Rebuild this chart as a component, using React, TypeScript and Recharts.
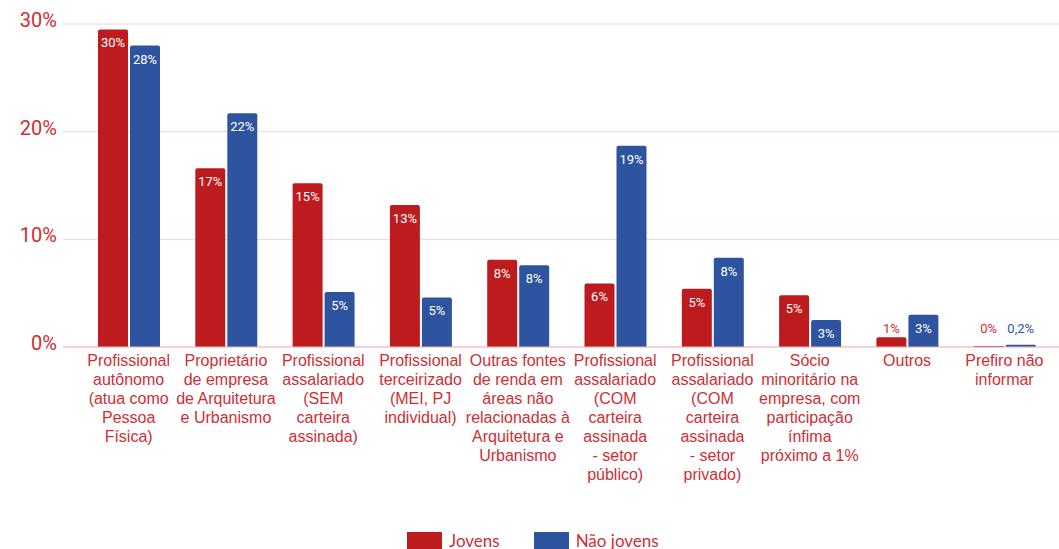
import { Bar, BarChart, CartesianGrid, LabelList, XAxis, YAxis } from 'recharts'

const categories = [
  'Profissional\nautônomo\n(atua como\nPessoa\nFísica)',
  'Proprietário\nde empresa\nde Arquitetura\ne Urbanismo',
  'Profissional\nassalariado\n(SEM\ncarteira\nassinada)',
  'Profissional\nterceirizado\n(MEI, PJ\nindividual)',
  'Outras fontes\nde renda em\náreas não\nrelacionadas à\nArquitetura e\nUrbanismo',
  'Profissional\nassalariado\n(COM\ncarteira\nassinada\n- setor\npúblico)',
  'Profissional\nassalariado\n(COM\ncarteira\nassinada\n- setor\nprivado)',
  'Sócio\nminoritário na\nempresa, com\nparticipação\nínfima\npróximo a 1%',
  'Outros',
  'Prefiro não\ninformar',
]

const jovens = [29.5, 16.6, 15.2, 13.2, 8.1, 5.9, 5.4, 4.8, 0.9, 0.1]
const naoJovens = [28.0, 21.7, 5.1, 4.6, 7.6, 18.7, 8.3, 2.5, 3.0, 0.2]

const jovensLabels = ['30%', '17%', '15%', '13%', '8%', '6%', '5%', '5%', '1%', '0%']
const naoJovensLabels = ['28%', '22%', '5%', '5%', '8%', '19%', '8%', '3%', '3%', '0,2%']

const yTicks = [0, 10, 20, 30]

const RED = '#be1b1e'
const BLUE = '#2e54a0'
const TEXT_RED = '#cf2e35'

const data = categories.map((name, i) => ({
  name,
  jovens: jovens[i],
  naoJovens: naoJovens[i],
  jovensLabel: jovensLabels[i],
  naoJovensLabel: naoJovensLabels[i],
}))

function CategoryTick(props: any) {
  const { x, payload } = props
  const lines = String(payload.value).split('\n')
  return (
    <text
      x={x}
      y={366}
      textAnchor="middle"
      fill={TEXT_RED}
      fontSize={16}
      fontFamily="'Liberation Sans', Arial, sans-serif"
    >
      {lines.map((line, i) => (
        <tspan key={i} x={x} dy={i === 0 ? 0 : 19}>
          {line}
        </tspan>
      ))}
    </text>
  )
}

function PercentTick(props: any) {
  const { x, y, payload } = props
  return (
    <text x={x} y={y + 3} textAnchor="end" fill={TEXT_RED} fontSize={20} fontFamily="Roboto, sans-serif">
      {`${payload.value}%`}
    </text>
  )
}

// rótulo dentro da barra (branco) ou acima dela quando a barra é baixa
const makeLabel = (color: string) => (props: any) => {
  const { x, y, width, height, value } = props
  const cx = Number(x) + Number(width) / 2
  const top = Number(y)
  const h = Number(height)
  if (h >= 18) {
    return (
      <text x={cx} y={top + 18} textAnchor="middle" fill="#ffffff" fontSize={13} fontFamily="Roboto, sans-serif">
        {value}
      </text>
    )
  }
  const base = Math.min(top - 4, top + h - 14)
  return (
    <text x={cx} y={base} textAnchor="middle" fill={color} fontSize={13} fontFamily="Roboto, sans-serif">
      {value}
    </text>
  )
}

const legendItems = [
  { label: 'Jovens', color: RED },
  { label: 'Não jovens', color: BLUE },
]

export default function App() {
  return (
    <div style={{ position: 'absolute', left: 0, top: 0, width: 1059, height: 549, background: '#fff' }}>
      <BarChart
        width={1059}
        height={549}
        data={data}
        margin={{ top: 24, right: 0, left: 0, bottom: 0 }}
        barSize={30}
        barGap={2}
      >
        <CartesianGrid vertical={false} stroke="#f7d2d2" />
        <XAxis
          dataKey="name"
          height={202}
          interval={0}
          tickLine={false}
          axisLine={{ stroke: '#f1b9b9' }}
          padding={{ left: 17, right: 6 }}
          tick={<CategoryTick />}
        />
        <YAxis
          width={63}
          domain={[0, 30]}
          ticks={yTicks}
          axisLine={false}
          tickLine={false}
          tickSize={0}
          tickMargin={6}
          tick={<PercentTick />}
        />
        <Bar dataKey="jovens" fill={RED} radius={[2, 2, 0, 0]} isAnimationActive={false}>
          <LabelList dataKey="jovensLabel" content={makeLabel(TEXT_RED)} />
        </Bar>
        <Bar dataKey="naoJovens" fill={BLUE} radius={[2, 2, 0, 0]} isAnimationActive={false}>
          <LabelList dataKey="naoJovensLabel" content={makeLabel(BLUE)} />
        </Bar>
      </BarChart>
      <div
        style={{
          position: 'absolute',
          left: 407,
          top: 530,
          display: 'flex',
          alignItems: 'center',
          gap: 34,
          fontFamily: 'Lato, sans-serif',
          fontSize: 17,
          color: TEXT_RED,
        }}
      >
        {legendItems.map((item) => (
          <div key={item.label} style={{ display: 'flex', alignItems: 'center' }}>
            <span style={{ display: 'inline-block', width: 35, height: 18, background: item.color, marginRight: 7 }} />
            <span>{item.label}</span>
          </div>
        ))}
      </div>
    </div>
  )
}
